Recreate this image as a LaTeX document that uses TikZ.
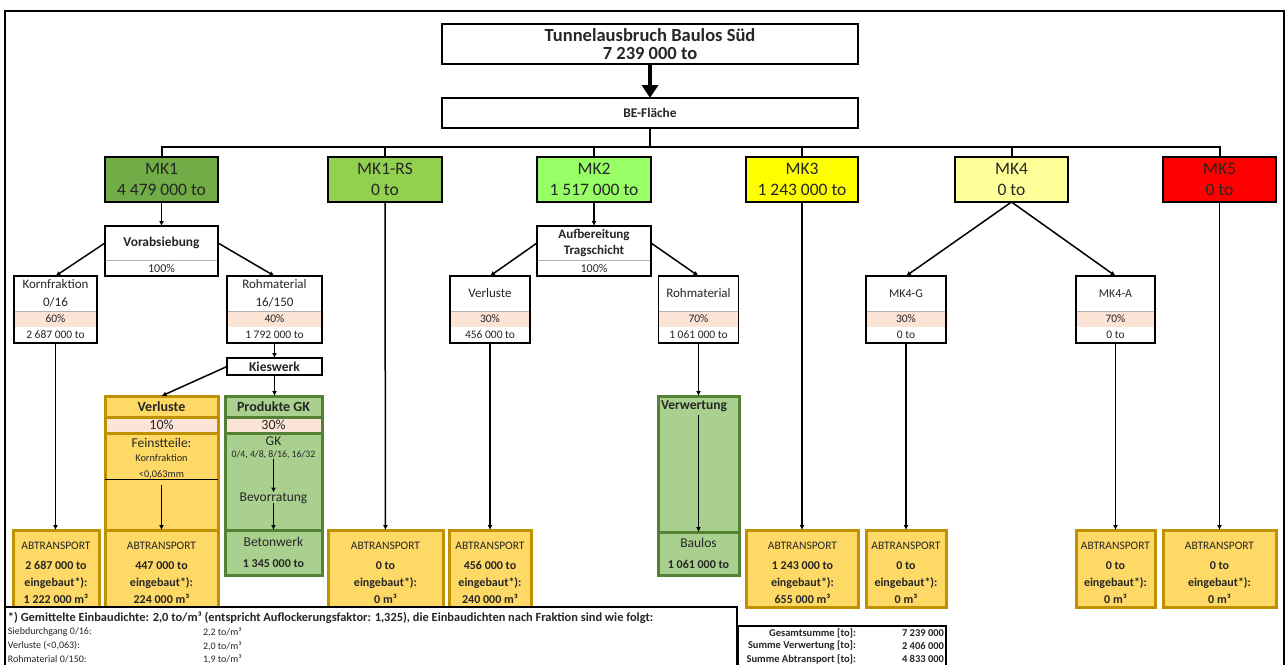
\documentclass[tikz,border=0pt]{standalone}
\usepackage{fontspec}
\setmainfont{Carlito}
\usetikzlibrary{positioning,arrows.meta}
\definecolor{mkone}{HTML}{70AD47}
\definecolor{mkoners}{HTML}{92D050}
\definecolor{mktwo}{HTML}{99FF66}
\definecolor{mkthree}{HTML}{FFFF00}
\definecolor{mkfour}{HTML}{FFFF99}
\definecolor{mkfive}{HTML}{FF0000}
\definecolor{pinkband}{HTML}{FCE4D6}
\definecolor{goldfill}{HTML}{FFD966}
\definecolor{golddraw}{HTML}{BF9000}
\definecolor{gkfill}{HTML}{A9D08E}
\definecolor{gkdraw}{HTML}{548235}

\begin{document}
\begin{tikzpicture}[x=1pt, y=-1pt,
        every node/.style={inner sep=0pt, outer sep=0pt, align=center, text=black!85},
        box/.style={draw=black, line width=1.5pt, fill=white},
        mkbox/.style={box, minimum height=45pt, font=\fontsize{17.5}{21}\selectfont},
        row/.style={fill=white, font=\fontsize{13}{15}\selectfont},
        pct/.style={fill=pinkband, draw=black!30, line width=0.5pt, minimum height=16pt, font=\fontsize{11.5}{12}\selectfont},
        val/.style={fill=white, minimum height=16pt, font=\fontsize{11.5}{13}\selectfont},
        grp/.style={draw=black, line width=1.5pt},
        goldrow/.style={draw=golddraw, line width=3pt, fill=goldfill},
        gkrow/.style={draw=gkdraw, line width=3pt, fill=gkfill},
        abtext/.style={anchor=north, yshift=-12pt, font=\fontsize{12}{17}\selectfont\bfseries},
        abtr/.style 2 args={goldrow, minimum height=77pt,
            label={[abtext]north:{{\mdseries\fontsize{11.5}{13}\selectfont ABTRANSPORT}\\[3pt]#1\\eingebaut*):\\#2}}},
        arr/.style={-{Latex[length=5pt,width=5pt]}, line width=1.5pt},
        link/.style={line width=2pt},
        notetext/.style={anchor=west, font=\fontsize{10}{11}\selectfont},
        sumtext/.style={anchor=east, font=\fontsize{10.5}{11}\selectfont\bfseries}
    ]
        \useasboundingbox (0,0) rectangle (1285,664);
        \clip (0,0) rectangle (1285,664);

        % page frame
        \draw[line width=1.2pt] (5,680) -- (5,11) -- (1284,11) -- (1284,680);

        % Top
        \node[box, minimum width=416pt, minimum height=40pt, font=\fontsize{18.5}{18}\selectfont\bfseries] (title) at (650,44) {Tunnelausbruch Baulos Süd\\7 239 000 to};
        \node[box, minimum width=416pt, minimum height=30pt, font=\fontsize{13.3}{14}\selectfont\bfseries] (be) at (650,113) {BE-Fläche};
        \draw[-{Triangle[length=13pt,width=16pt]}, line width=4pt] (title.south) -- (be.north);

        % Material classes
        \node[mkbox, fill=mkone, minimum width=113pt] (mk1) at (161.5,179.5) {MK1\\4 479 000 to};
        \node[mkbox, fill=mkoners, minimum width=114pt] (mk1rs) at (385,179.5) {MK1-RS\\0 to};
        \node[mkbox, fill=mktwo, minimum width=114pt] (mk2) at (594,179.5) {MK2\\1 517 000 to};
        \node[mkbox, fill=mkthree, minimum width=112pt] (mk3) at (802,179.5) {MK3\\1 243 000 to};
        \node[mkbox, fill=mkfour, minimum width=113pt] (mk4) at (1011.5,179.5) {MK4\\0 to};
        \node[mkbox, fill=mkfive, minimum width=113pt] (mk5) at (1219.5,179.5) {MK5\\0 to};

        % Bus
        \coordinate (bus) at (650,147);
        \draw[link] (be.south) -- (bus);
        \draw[link] (mk1.north) |- (bus) -| (mk5.north);
        \foreach \m in {mk1rs,mk2,mk3,mk4}
            \draw[link] (\m.north) -- (\m.north |- bus);

        % MK1 - Vorabsiebung
        \node[row, minimum width=113pt, minimum height=34pt, font=\fontsize{13.4}{15}\selectfont\bfseries] (vab) at (161.5,243) {Vorabsiebung};
        \node[val, draw=black!30, line width=0.5pt, minimum width=113pt, font=\fontsize{12}{13}\selectfont, below=0pt of vab] (vabp) {100\%};
        \draw[grp] (vab.north west) rectangle (vabp.south east);

        \node[row, minimum width=83pt, minimum height=17pt] (kf1) at (55.5,284.5) {Kornfraktion};
        \node[row, minimum width=83pt, minimum height=18pt, below=0pt of kf1] (kf2) {0/16};
        \node[pct, minimum width=83pt, below=0pt of kf2] (kf3) {60\%};
        \node[val, minimum width=83pt, below=0pt of kf3] (kf4) {2 687 000 to};
        \draw[grp] (kf1.north west) rectangle (kf4.south east);

        \node[row, minimum width=95pt, minimum height=17pt] (rm1) at (274.5,284.5) {Rohmaterial};
        \node[row, minimum width=95pt, minimum height=18pt, below=0pt of rm1] (rm2) {16/150};
        \node[pct, minimum width=95pt, below=0pt of rm2] (rm3) {40\%};
        \node[val, minimum width=95pt, below=0pt of rm3] (rm4) {1 792 000 to};
        \draw[grp] (rm1.north west) rectangle (rm4.south east);

        \node[box, minimum width=95pt, minimum height=17pt, font=\fontsize{13.5}{14}\selectfont\bfseries] (kies) at (274.5,366.5) {Kieswerk};

        % Verluste (Kieswerk)
        \node[goldrow, minimum width=113pt, minimum height=21pt, font=\fontsize{14}{15}\selectfont\bfseries] (vl1) at (161.5,406.5) {Verluste};
        \node[goldrow, fill=pinkband, minimum width=113pt, minimum height=16pt, font=\fontsize{14}{14}\selectfont, below=0pt of vl1] (vl2) {10\%};
        \node[goldrow, minimum width=113pt, minimum height=97pt, below=0pt of vl2] (vl3) {};
        \node[abtr={447 000 to}{224 000 m³}, minimum width=113pt, below=0pt of vl3] (vl4) {};
        \node[font=\fontsize{13.5}{15}\selectfont, below=5pt of vl3.north] (fein) {Feinstteile:};
        \node[font=\fontsize{10.3}{16}\selectfont, below=7pt of fein] (feinsub) {Kornfraktion\\<0,063mm};
        \draw[line width=0.8pt] (feinsub.south -| vl3.west) -- (feinsub.south -| vl3.east);
        \draw[arr] ([yshift=-6pt]feinsub.south) -- (vl4.north);

        % Produkte GK
        \node[gkrow, minimum width=97pt, minimum height=21pt, font=\fontsize{14}{15}\selectfont\bfseries] (gk1) at (273.5,406.5) {Produkte GK};
        \node[gkrow, fill=pinkband, minimum width=97pt, minimum height=16pt, font=\fontsize{14}{14}\selectfont, below=0pt of gk1] (gk2) {30\%};
        \node[gkrow, minimum width=97pt, minimum height=97pt, below=0pt of gk2] (gk3) {};
        \node[gkrow, minimum width=97pt, minimum height=45pt, font=\fontsize{13.5}{21}\selectfont, below=0pt of gk3] (gk4) {Betonwerk\\\textbf{\fontsize{12}{21}\selectfont 1 345 000 to}};
        \node[font=\fontsize{13.5}{15}\selectfont, below=4pt of gk3.north] (gktxt) {GK};
        \node[font=\fontsize{9.8}{11}\selectfont, below=5pt of gktxt] (gksize) {0/4, 4/8, 8/16, 16/32};
        \node[font=\fontsize{13.5}{15}\selectfont] (bev) at (273.5,498) {Bevorratung};
        \draw[arr] (gksize) -- (bev);
        \draw[arr] (bev) -- (gk4);

        % MK2 - Aufbereitung
        \node[row, minimum width=114pt, minimum height=34pt, font=\fontsize{13}{16}\selectfont\bfseries] (auf) at (594,243) {Aufbereitung\\Tragschicht};
        \node[val, draw=black!30, line width=0.5pt, minimum width=114pt, font=\fontsize{12}{13}\selectfont, below=0pt of auf] (aufp) {100\%};
        \draw[grp] (auf.north west) rectangle (aufp.south east);

        \node[row, minimum width=80pt, minimum height=35pt] (vm1) at (490,293.5) {Verluste};
        \node[pct, minimum width=80pt, below=0pt of vm1] (vm2) {30\%};
        \node[val, minimum width=80pt, below=0pt of vm2] (vm3) {456 000 to};
        \draw[grp] (vm1.north west) rectangle (vm3.south east);

        \node[row, minimum width=80pt, minimum height=35pt] (rr1) at (698.5,293.5) {Rohmaterial};
        \node[pct, minimum width=80pt, below=0pt of rr1] (rr2) {70\%};
        \node[val, minimum width=80pt, below=0pt of rr2] (rr3) {1 061 000 to};
        \draw[grp] (rr1.north west) rectangle (rr3.south east);

        \node[gkrow, minimum width=81pt, minimum height=136pt] (vw1) at (698.5,464) {};
        \node[gkrow, minimum width=81pt, minimum height=43pt, font=\fontsize{13.5}{21}\selectfont, below=0pt of vw1] (vw2) {Baulos\\\textbf{\fontsize{12}{21}\selectfont 1 061 000 to}};
        \node[anchor=north west, font=\fontsize{13.5}{14}\selectfont\bfseries] (vwtxt) at ([xshift=3pt,yshift=-5pt]vw1.north west) {Verwertung};
        \coordinate (vwtop) at (vwtxt.south -| vw1.north);

        % MK4 split
        \node[row, minimum width=80pt, minimum height=35pt, font=\fontsize{12}{14}\selectfont] (g1) at (906,293.5) {MK4-G};
        \node[pct, minimum width=80pt, below=0pt of g1] (g2) {30\%};
        \node[val, minimum width=80pt, below=0pt of g2] (g3) {0 to};
        \draw[grp] (g1.north west) rectangle (g3.south east);

        \node[row, minimum width=79pt, minimum height=35pt, font=\fontsize{12}{14}\selectfont] (a1) at (1115.5,293.5) {MK4-A};
        \node[pct, minimum width=79pt, below=0pt of a1] (a2) {70\%};
        \node[val, minimum width=79pt, below=0pt of a2] (a3) {0 to};
        \draw[grp] (a1.north west) rectangle (a3.south east);

        % Abtransport
        \node[abtr={2 687 000 to}{1 222 000 m³}, minimum width=86pt] (ab1) at (56,568.5) {};
        \node[abtr={0 to}{0 m³}, minimum width=115pt] (abrs) at (385.5,568.5) {};
        \node[abtr={456 000 to}{240 000 m³}, minimum width=82pt] (abv) at (490,568.5) {};
        \node[abtr={1 243 000 to}{655 000 m³}, minimum width=112pt] (ab3) at (802.5,568.5) {};
        \node[abtr={0 to}{0 m³}, minimum width=80pt] (ab4g) at (906,568.5) {};
        \node[abtr={0 to}{0 m³}, minimum width=79pt] (ab4a) at (1115.5,568.5) {};
        \node[abtr={0 to}{0 m³}, minimum width=113pt] (ab5) at (1219.5,568.5) {};

        % Arrows
        \draw[arr] (mk1) -- (vab);
        \draw[arr] (vab.west) -- (kf1.north);
        \draw[arr] (vab.east) -- (rm1.north);
        \draw[arr] (rm4) -- (kies);
        \draw[arr] (kies.west) -- (vl1.north);
        \draw[arr] (kies.south) -- (kies.south |- gk1.north);
        \draw[arr] (kf4.south) -- (kf4.south |- ab1.north);
        \draw[arr] (mk1rs) -- (abrs);
        \draw[arr] (mk2) -- (auf);
        \draw[arr] (auf.west) -- (vm1.north);
        \draw[arr] (auf.east) -- (rr1.north);
        \draw[arr] (vm3) -- (abv);
        \draw[arr] (rr3) -- (vw1);
        \draw[arr] ([yshift=-3pt]vwtop) -- (vw2.north);
        \draw[arr] (mk3.south) -- (mk3.south |- ab3.north);
        \draw[arr] (mk4.south) -- (g1.north);
        \draw[arr] (mk4.south) -- (a1.north);
        \draw[arr] (g3) -- (ab4g);
        \draw[arr] (a3) -- (ab4a);
        \draw[arr] (mk5) -- (ab5);

        % Footnote
        \node[box, anchor=north west, minimum width=732pt, minimum height=80pt] (note) at (5,607) {};
        \node[anchor=west, font=\fontsize{12.4}{13}\selectfont\bfseries] (notehead) at (8,618) {*) Gemittelte Einbaudichte: 2,0 to/m³ (entspricht Auflockerungsfaktor: 1,325), die Einbaudichten nach Fraktion sind wie folgt:};
        \node[notetext] (n1) at (8,632) {Siebdurchgang 0/16:};
        \node[notetext] (n1v) at (203,632) {2,2 to/m³};
        \node[notetext] (n2) at (8,646) {Verluste (<0,063):};
        \node[notetext] (n2v) at (203,646) {2,0 to/m³};
        \node[notetext] (n3) at (8,659) {Rohmaterial 0/150:};
        \node[notetext] (n3v) at (203,659) {1,9 to/m³};

        % Sums
        \node[box, line width=1.2pt, anchor=north west, minimum width=208pt, minimum height=60pt] (sums) at (738,626) {};
        \node[sumtext] (s1) at (856,633) {Gesamtsumme [to]:};
        \node[sumtext] (s1v) at (944,633) {7 239 000};
        \node[sumtext] (s2) at (856,646) {Summe Verwertung [to]:};
        \node[sumtext] (s2v) at (944,646) {2 406 000};
        \node[sumtext] (s3) at (856,659) {Summe Abtransport [to]:};
        \node[sumtext] (s3v) at (944,659) {4 833 000};
    \end{tikzpicture}
\end{document}
